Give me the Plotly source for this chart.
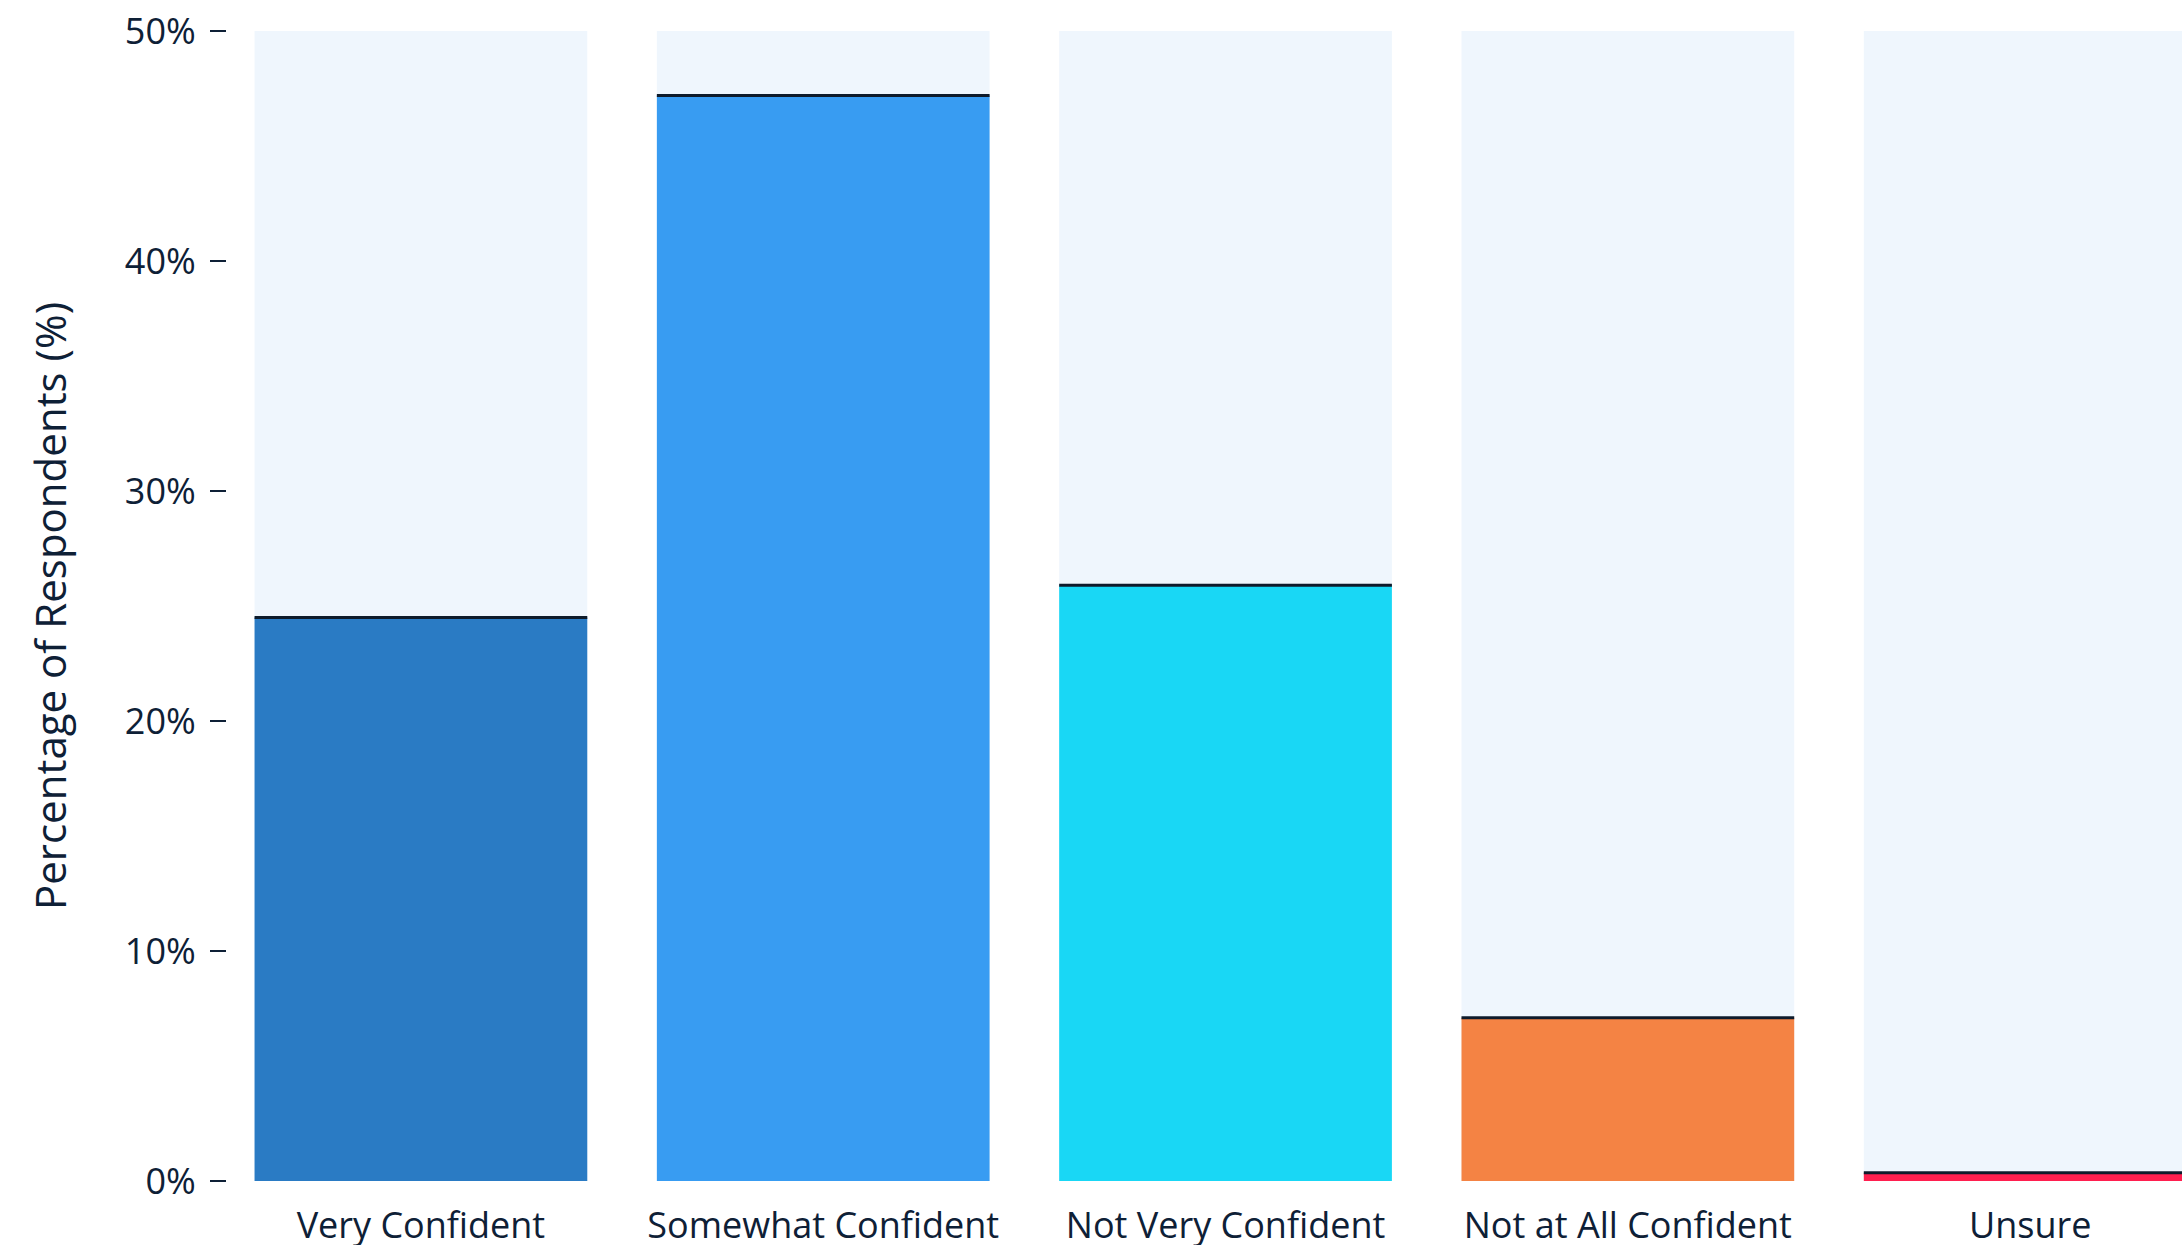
import plotly.graph_objects as go

categories = ["Very Confident", "Somewhat Confident", "Not Very Confident",
              "Not at All Confident", "Unsure"]
values = [24.5, 47.2, 25.9, 7.1, 0.36]
bar_colors = ["#2A7BC4", "#389CF2", "#19D7F5", "#F48344", "#FF1F4F"]
axis_max = 50
y_ticks = [0, 10, 20, 30, 40, 50]
y_tick_labels = ["0%", "10%", "20%", "30%", "40%", "50%"]

TEXT = "#0E2036"
LINE = "#0E1B2B"
BG_BAR = "#EFF6FD"
FONT = "Open Sans"
line_thick = 0.13

fig = go.Figure()
fig.add_trace(go.Bar(x=categories, y=[axis_max] * len(categories),
                     marker=dict(color=BG_BAR, line=dict(width=0)),
                     hoverinfo="skip", showlegend=False))
fig.add_trace(go.Bar(x=categories, y=values,
                     marker=dict(color=bar_colors, line=dict(width=0)),
                     showlegend=False))
fig.add_trace(go.Bar(x=categories, y=[line_thick] * len(categories),
                     base=[v - line_thick / 2 for v in values],
                     marker=dict(color=LINE, line=dict(width=0)),
                     hoverinfo="skip", showlegend=False))

fig.update_layout(
    width=2210, height=1245,
    margin=dict(l=227, r=0, t=31, b=64),
    barmode="overlay", bargap=0.173,
    plot_bgcolor="white", paper_bgcolor="white",
    font=dict(family=FONT, color=TEXT, size=36),
)
fig.update_xaxes(
    range=[-0.482, 4.447], automargin=False, showgrid=False, zeroline=False,
    showline=False, ticks="", ticklabelstandoff=20,
    tickfont=dict(size=36, family=FONT, color=TEXT),
)
fig.update_yaxes(
    range=[0, axis_max], tickvals=y_ticks, ticktext=y_tick_labels,
    automargin=False, showgrid=False, zeroline=False, showline=False,
    ticks="outside", ticklen=16, tickwidth=2, tickcolor=TEXT,
    ticklabelstandoff=7, ticklabeloverflow="allow",
    tickfont=dict(size=36, family=FONT, color=TEXT),
    title=dict(text="Percentage of Respondents (%)", standoff=45,
               font=dict(size=42, family=FONT, color=TEXT)),
)

fig.write_html("out.html",
               config={"displayModeBar": False},
               post_script="document.body.style.margin='0';"
                           "document.documentElement.style.overflow='hidden';"
                           "document.body.style.overflow='hidden';")
